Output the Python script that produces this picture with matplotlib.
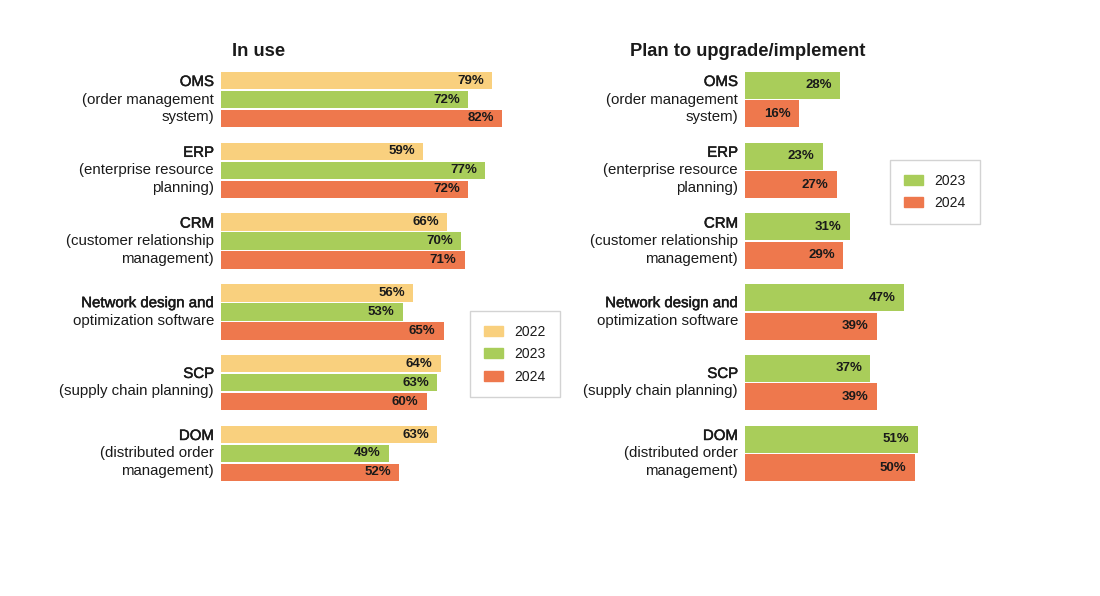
import matplotlib
matplotlib.use("Agg")
import matplotlib.pyplot as plt
import matplotlib.patheffects as pe
from matplotlib.patches import Patch

plt.rcParams['font.family'] = ['Liberation Sans', 'DejaVu Sans']

# categories: first line (heading) + remaining lines
cat_heads = ["OMS", "ERP", "CRM", "Network design and", "SCP", "DOM"]
cat_rest = [
    ["(order management", "system)"],
    ["(enterprise resource", "planning)"],
    ["(customer relationship", "management)"],
    ["optimization software"],
    ["(supply chain planning)"],
    ["(distributed order", "management)"],
]

in_use_2022 = [79, 59, 66, 56, 64, 63]
in_use_2023 = [72, 77, 70, 53, 63, 49]
in_use_2024 = [82, 72, 71, 65, 60, 52]

plan_2023 = [28, 23, 31, 47, 37, 51]
plan_2024 = [16, 27, 29, 39, 39, 50]

c2022 = "#F9D07E"
c2023 = "#A9CD5A"
c2024 = "#EE784D"
txt = "#1a1a1a"

W, H = 1100, 596
fig = plt.figure(figsize=(11, 5.96), dpi=100)

# fake a "medium" weight for the first line of each label
medium = [pe.withStroke(linewidth=0.35, foreground=txt)]


def px_axes(x0, width):
    top, bottom = 64.1, 488.9
    return fig.add_axes([x0 / W, 1 - bottom / H, width / W, (bottom - top) / H])


def draw_panel(ax, series, colors, group_span=0.805, gap=0.022):
    n = len(series)
    slot = group_span / n
    for j, (vals, col) in enumerate(zip(series, colors)):
        ys = [i - group_span / 2 + slot * (j + 0.5) for i in range(len(vals))]
        bars = ax.barh(ys, vals, height=slot - gap, color=col, edgecolor="none")
        for b, v in zip(bars, vals):
            ax.annotate(f"{v}%", (b.get_width(), b.get_y() + b.get_height() / 2),
                        xytext=(-6, 0), textcoords="offset points",
                        ha="right", va="center", fontsize=9.5,
                        fontweight="bold", color=txt)
    ax.set_xlim(0, 100)
    ax.set_ylim(5.5, -0.5)
    ax.axis("off")
    # category labels
    for i, (head, rest) in enumerate(zip(cat_heads, cat_rest)):
        lines = [head] + rest
        nl = len(lines)
        for k, line in enumerate(lines):
            off = (k - (nl - 1) / 2) * 17.5 * 0.72  # px -> points
            t = ax.annotate(line, (0, i), xycoords=("axes fraction", "data"),
                            xytext=(-5, -off), textcoords="offset points",
                            ha="right", va="center", fontsize=10.8, color=txt)
            if k == 0:
                t.set_path_effects(medium)


ax1 = px_axes(221, 343)
draw_panel(ax1, [in_use_2022, in_use_2023, in_use_2024], [c2022, c2023, c2024])

ax2 = px_axes(745, 339)
draw_panel(ax2, [plan_2023, plan_2024], [c2023, c2024])

fig.text(232 / W, 1 - 51 / H, "In use", ha="left", va="center",
         fontsize=13.2, fontweight="bold", color=txt)
fig.text(630 / W, 1 - 51 / H, "Plan to upgrade/implement", ha="left", va="center",
         fontsize=13.2, fontweight="bold", color=txt)

leg_kw = dict(loc="upper left", fontsize=10, frameon=True, fancybox=False,
              edgecolor="#c8c8c8", borderpad=1.0, handlelength=1.4,
              handleheight=0.75, handletextpad=0.8, labelspacing=0.6,
              borderaxespad=0, labelcolor=txt)
leg1 = fig.legend(handles=[Patch(color=c2022, label="2022"),
                           Patch(color=c2023, label="2023"),
                           Patch(color=c2024, label="2024")],
                  bbox_to_anchor=(470 / W, 1 - 311 / H), **leg_kw)
leg1.get_frame().set_linewidth(1.0)
leg2 = fig.legend(handles=[Patch(color=c2023, label="2023"),
                           Patch(color=c2024, label="2024")],
                  bbox_to_anchor=(890 / W, 1 - 160 / H), **leg_kw)
leg2.get_frame().set_linewidth(1.0)

fig.savefig("out.png", dpi=100)
